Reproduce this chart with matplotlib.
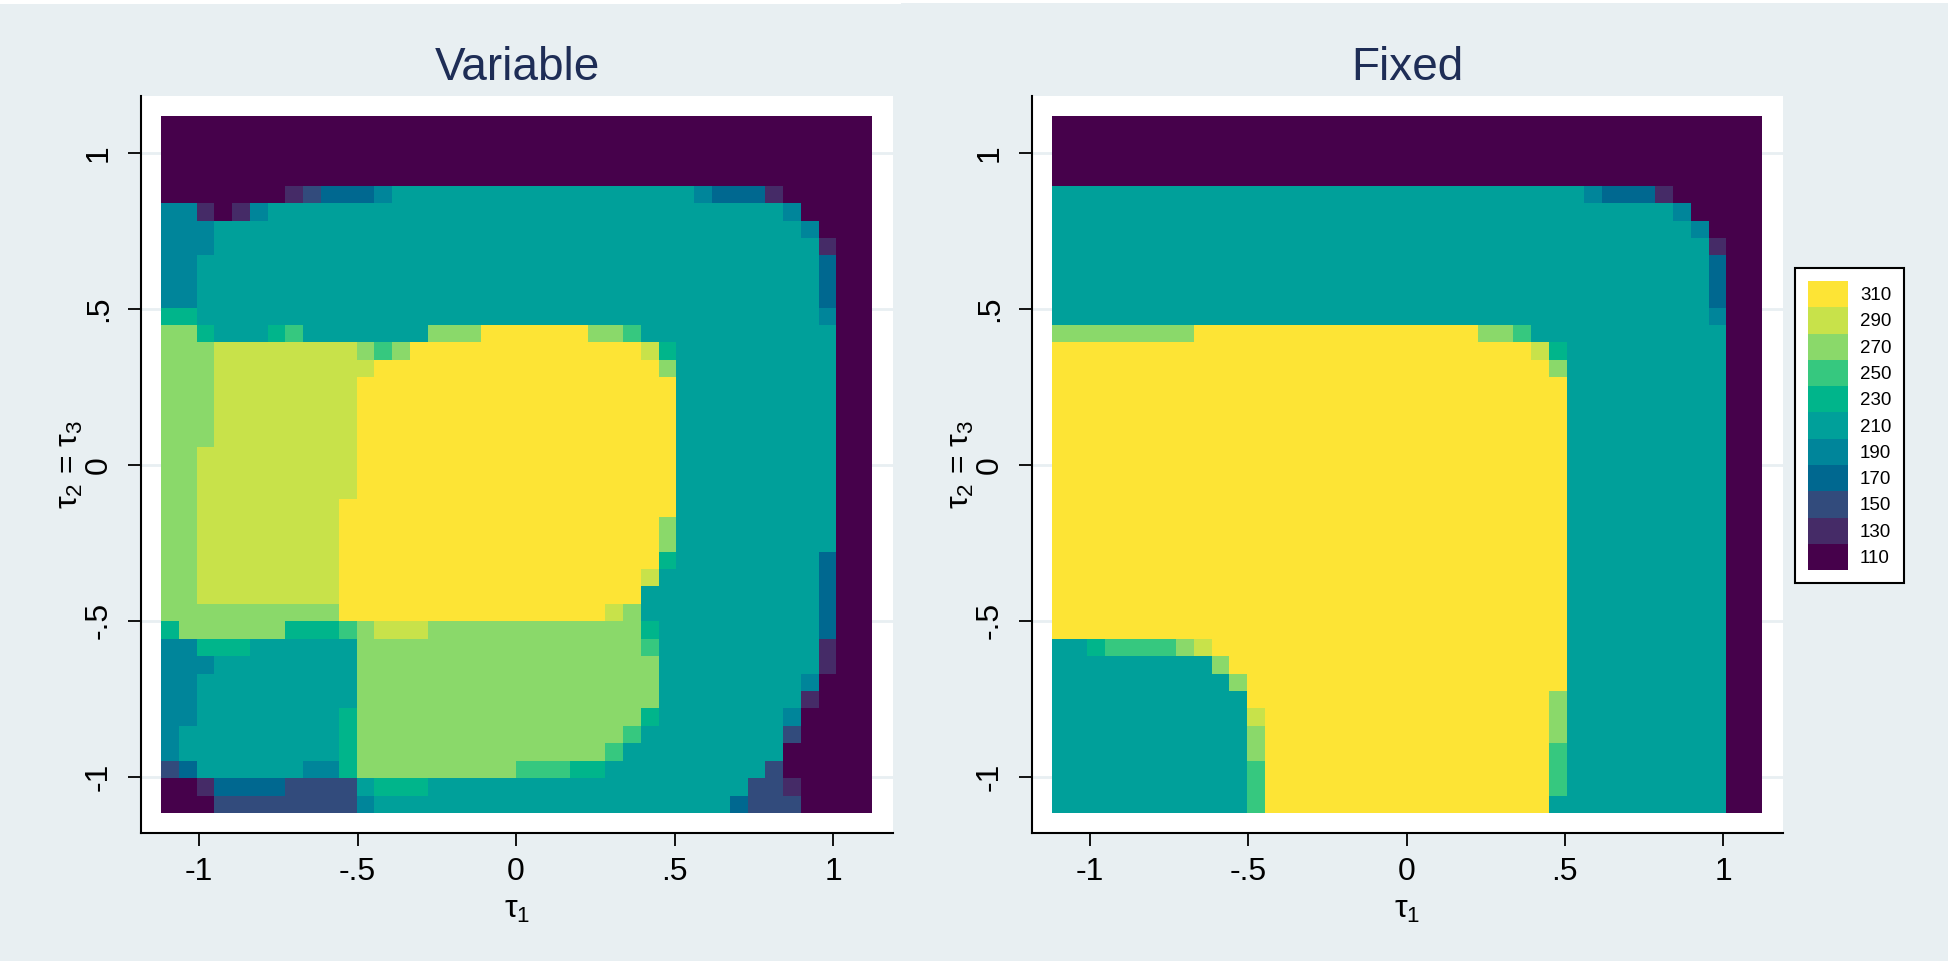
import numpy as np
import matplotlib
matplotlib.use("Agg")
import matplotlib.pyplot as plt
from matplotlib.colors import ListedColormap, BoundaryNorm
from matplotlib.patches import Patch, Rectangle

plt.rcParams["font.family"] = ["Liberation Sans", "DejaVu Sans"]
plt.rcParams["mathtext.fontset"] = "custom"
plt.rcParams["mathtext.rm"] = "Liberation Sans"
plt.rcParams["mathtext.default"] = "regular"

# colour classes (legend), low -> high
LEVELS = [110, 130, 150, 170, 190, 210, 230, 250, 270, 290, 310]
COLORS = ["#46014b", "#452b67", "#324b7c", "#006890", "#00859a", "#00a09a",
          "#00b58b", "#36c87f", "#8ad96a", "#c8e24a", "#fde435"]
CODES = "abcdefghijk"  # a=110 ... k=310

TAU_TICKS = [-1, -0.5, 0, 0.5, 1]
TICK_LABELS = ["-1", "-.5", "0", ".5", "1"]
TITLES = ["Variable", "Fixed"]

# 40 x 40 grid, top row first, run-length coded "<class><count>"
VARIABLE_ROWS = [
    "a40", "a40", "a40", "a40",
    "a7 b c d3 e f17 e d3 b a5",
    "e2 b a b e f29 e a4",
    "e3 f33 e a3",
    "e3 f34 b a2",
    "e2 f35 d a2",
    "e2 f35 d a2",
    "e2 f35 d a2",
    "g2 f35 e a2",
    "i2 g f3 g h f7 i3 k6 i2 h f11 a2",
    "i3 j8 i h i k13 j g f9 a2",
    "i3 j9 k16 i f9 a2",
    "i3 j8 k18 f9 a2",
    "i3 j8 k18 f9 a2",
    "i3 j8 k18 f9 a2",
    "i3 j8 k18 f9 a2",
    "i2 j9 k18 f9 a2",
    "i2 j9 k18 f9 a2",
    "i2 j9 k18 f9 a2",
    "i2 j8 k19 f9 a2",
    "i2 j8 k18 i f9 a2",
    "i2 j8 k18 i f9 a2",
    "i2 j8 k18 g f8 d a2",
    "i2 j8 k17 j f9 d a2",
    "i2 j8 k17 f10 d a2",
    "i10 k15 j i f10 d a2",
    "g i6 g3 h i j3 i12 g f9 d a2",
    "e2 g3 f6 i16 h f9 b a2",
    "e3 f8 i17 f9 b a2",
    "e2 f9 i17 f8 e a3",
    "e2 f9 i17 f8 b a3",
    "e2 f8 g i16 g f7 e a4",
    "e f9 g i15 h f8 c a4",
    "e f9 g i14 h f9 a5",
    "c d f6 e2 g i9 h3 g2 f9 c a5",
    "a2 b d4 c4 f g3 f18 c2 b a4",
    "a3 c8 e f20 d c3 a4",
]

FIXED_ROWS = [
    "a40", "a40", "a40", "a40",
    "f30 e d3 b a5",
    "f35 e a4",
    "f36 e a3",
    "f37 b a2",
    "f37 d a2",
    "f37 d a2",
    "f37 d a2",
    "f37 e a2",
    "i8 k16 i2 h f11 a2",
    "k27 j g f9 a2",
    "k28 i f9 a2",
    "k29 f9 a2", "k29 f9 a2", "k29 f9 a2", "k29 f9 a2", "k29 f9 a2",
    "k29 f9 a2", "k29 f9 a2", "k29 f9 a2", "k29 f9 a2", "k29 f9 a2",
    "k29 f9 a2", "k29 f9 a2", "k29 f9 a2", "k29 f9 a2", "k29 f9 a2",
    "f2 g h4 i j k20 f9 a2",
    "f9 i k19 f9 a2",
    "f10 i k18 f9 a2",
    "f11 k17 i f9 a2",
    "f11 j k16 i f9 a2",
    "f11 i k16 i f9 a2",
    "f11 i k16 h f9 a2",
    "f11 h k16 h f9 a2",
    "f11 h k16 h f9 a2",
    "f11 h k16 f10 a2",
]

GRID_HALF = 1.12


def decode(rows):
    out = []
    for row in rows:
        vals = []
        for tok in row.split():
            n = int(tok[1:]) if len(tok) > 1 else 1
            vals += [LEVELS[CODES.index(tok[0])]] * n
        assert len(vals) == 40, row
        out.append(vals)
    return np.array(out)


BG = "#e8eff2"
fig = plt.figure(figsize=(19.49, 9.61), dpi=100, facecolor=BG)
fig.add_artist(Rectangle((0, 1 - 4 / 961), 901 / 1949, 4 / 961,
                         transform=fig.transFigure, color="white", lw=0))
fig.add_artist(Rectangle((901 / 1949, 1 - 3 / 961), 1 - 901 / 1949, 3 / 961,
                         transform=fig.transFigure, color="white", lw=0))

cmap = ListedColormap(COLORS)
norm = BoundaryNorm(np.arange(100, 321, 20), cmap.N)

positions = [[141 / 1949, 128 / 961, 752 / 1949, 737 / 961],
             [1032 / 1949, 128 / 961, 751 / 1949, 737 / 961]]

for pos, rows, title in zip(positions, [VARIABLE_ROWS, FIXED_ROWS], TITLES):
    ax = fig.add_axes(pos)
    z = decode(rows)
    ax.imshow(z, cmap=cmap, norm=norm, interpolation="nearest", aspect="auto",
              origin="upper", zorder=1,
              extent=(-GRID_HALF, GRID_HALF, -1.117, 1.117))
    ax.set_xlim(-1.183, 1.189)
    ax.set_ylim(-1.181, 1.184)
    ax.set_facecolor("white")
    ax.set_axisbelow(True)
    ax.yaxis.grid(True, color=BG, lw=2)
    for s in ["top", "right"]:
        ax.spines[s].set_visible(False)
    for s in ["left", "bottom"]:
        ax.spines[s].set_linewidth(1.5)
    ax.set_xticks(TAU_TICKS, TICK_LABELS)
    ax.set_yticks(TAU_TICKS, TICK_LABELS)
    ax.tick_params(direction="out", length=9.5, width=1.3, labelsize=23)
    ax.tick_params(axis="x", pad=8)
    ax.tick_params(axis="y", pad=10, labelrotation=90)
    for lab in ax.get_yticklabels():
        lab.set_va("center")
    ax.set_xlabel("τ$_1$", fontsize=23)
    ax.set_ylabel("τ$_2$ = τ$_3$", fontsize=23)
    ax.xaxis.set_label_coords(0.5, -0.084)
    ax.yaxis.set_label_coords(-0.0745, 0.5)
    ax.set_title(title, fontsize=33, color="#1e2d56", pad=11.5)

handles = [Patch(facecolor=c, edgecolor="none", label=str(v))
           for v, c in zip(LEVELS[::-1], COLORS[::-1])]
leg = fig.legend(handles=handles, loc="upper left",
                 bbox_to_anchor=(1795 / 1949, 1 - 268 / 961),
                 fontsize=13.5, frameon=True, fancybox=False,
                 edgecolor="black", framealpha=1,
                 handlelength=2.13, handleheight=1.78, labelspacing=0,
                 borderpad=0.69, handletextpad=0.65, borderaxespad=0)
leg.get_frame().set_linewidth(1.5)

fig.savefig("out.png", dpi=100, facecolor=BG)
